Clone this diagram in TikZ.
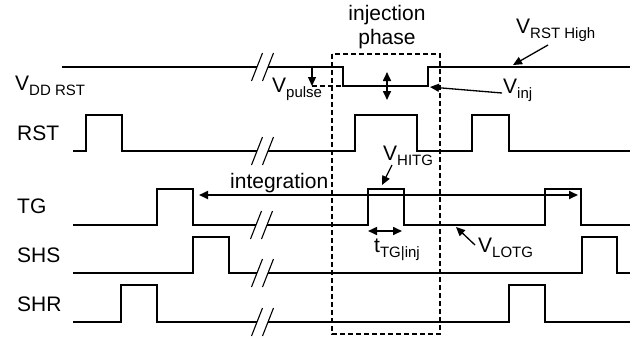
\documentclass[tikz,border=0pt]{standalone}
\usepackage{fontspec}
\setmainfont{Liberation Sans}
\usetikzlibrary{arrows.meta, positioning}
\newcommand\lowsub[1]{\raisebox{-5pt}{\fontsize{15}{17}\selectfont #1}}

\begin{document}
\begin{tikzpicture}[x=1pt, y=-1pt,
   wave/.style={line width=1.4pt, line join=miter},
   brk/.style={line width=1.1pt},
   lbl/.style={anchor=base west, inner sep=0pt, font=\fontsize{21}{24}\selectfont},
   ptr/.style={line width=1.3pt, -{Triangle[length=9pt, width=8pt]}},
   dptr/.style={line width=1.6pt, {Triangle[length=9pt, width=8pt]}-{Triangle[length=9pt, width=8pt]}}]
\useasboundingbox (0,0) rectangle (642,338);

% signal names
\node[lbl] (vddlbl) at (15,90) {V\lowsub{DD RST}};
\node[lbl] (rstlbl) at (17,140) {RST};
\node[lbl] (tglbl)  at (17,213) {TG};
\node[lbl] (shslbl) at (17,262) {SHS};
\node[lbl] (shrlbl) at (17,311) {SHR};

% waveforms
\draw[wave] (62,67) -- (257,67);
\draw[wave] (268,67) -- (343,67) -- (343,86) -- (428,86) -- (428,67) -- (630,67);
\draw[wave] (73,151) -- (86,151) -- (86,115) -- (122,115) -- (122,151) -- (257,151);
\draw[wave] (268,151) -- (355,151) -- (355,115) -- (417,115) -- (417,151)
   -- (472,151) -- (472,115) -- (509,115) -- (509,151) -- (630,151);
\draw[wave] (73,225) -- (157,225) -- (157,189) -- (193,189) -- (193,225) -- (256,225);
\draw[wave] (267,225) -- (368,225) -- (368,189) -- (404,189) -- (404,225)
   -- (545,225) -- (545,189) -- (581,189) -- (581,225) -- (630,225);
\draw[wave] (73,273) -- (193,273) -- (193,237) -- (229,237) -- (229,273) -- (257,273);
\draw[wave] (268,273) -- (582,273) -- (582,237) -- (617,237) -- (617,273) -- (630,273);
\draw[wave] (73,322) -- (121,322) -- (121,285) -- (157,285) -- (157,322) -- (257,322);
\draw[wave] (268,322) -- (509,322) -- (509,285) -- (545,285) -- (545,322) -- (630,322);

% time breaks
\foreach \yy/\xa in {67/257, 151/257, 225/256, 273/257, 322/257} {
  \draw[brk] (\xa-5.5,\yy+14) -- (\xa+5.5,\yy-14);
  \draw[brk] (\xa+5.5,\yy+14) -- (\xa+16.5,\yy-14);
}

% injection phase window
\draw[line width=1.2pt, dash pattern=on 5pt off 3pt] (332,54) rectangle (440,334);
\node[font=\fontsize{21}{24}\selectfont, align=center, inner sep=0pt] (injlbl)
     at (387,27) {injection\\phase};

% V_pulse
\coordinate (ptop) at (312,67);
\coordinate (pbot) at (312,86);
\draw[line width=1.2pt, dash pattern=on 5pt off 3pt] (pbot) -- (343,86);
\draw[ptr] (ptop) -- (pbot);
\node[lbl] (vpulse) at (272,92) {V\lowsub{pulse}};
\coordinate (swtop) at (387,72);
\coordinate (swbot) at (387,100);
\draw[dptr] (swtop) -- (swbot);

% level labels
\node[lbl] (vrsthigh) at (516,33) {V\lowsub{RST High}};
\coordinate (vrsthighA) at (548,45);
\coordinate (vrsthighB) at (513,65);
\draw[ptr] (vrsthighA) -- (vrsthighB);

\node[lbl] (vinj) at (503,93) {V\lowsub{inj}};
\coordinate (vinjA) at (502,93);
\coordinate (vinjB) at (430,87);
\draw[ptr] (vinjA) -- (vinjB);

\node[lbl] (vhitg) at (383,160) {V\lowsub{HITG}};
\coordinate (vhitgA) at (392,165);
\coordinate (vhitgB) at (382,185);
\draw[ptr] (vhitgA) -- (vhitgB);

\node[lbl] (vlotg) at (478,252) {V\lowsub{LOTG}};
\coordinate (vlotgA) at (475,245);
\coordinate (vlotgB) at (456,227);
\draw[ptr] (vlotgA) -- (vlotgB);

% integration and TG pulse width
\coordinate (intL) at (199,195);
\coordinate (intR) at (578,195);
\draw[dptr, line width=1.8pt] (intL) -- (intR);
\node[lbl] (intlbl) at (230,188) {integration};

\coordinate (tgL) at (368,231);
\coordinate (tgR) at (402,231);
\draw[dptr] (tgL) -- (tgR);
\node[lbl] (ttg) at (374,252) {t\lowsub{TG|inj}};
\end{tikzpicture}
\end{document}
